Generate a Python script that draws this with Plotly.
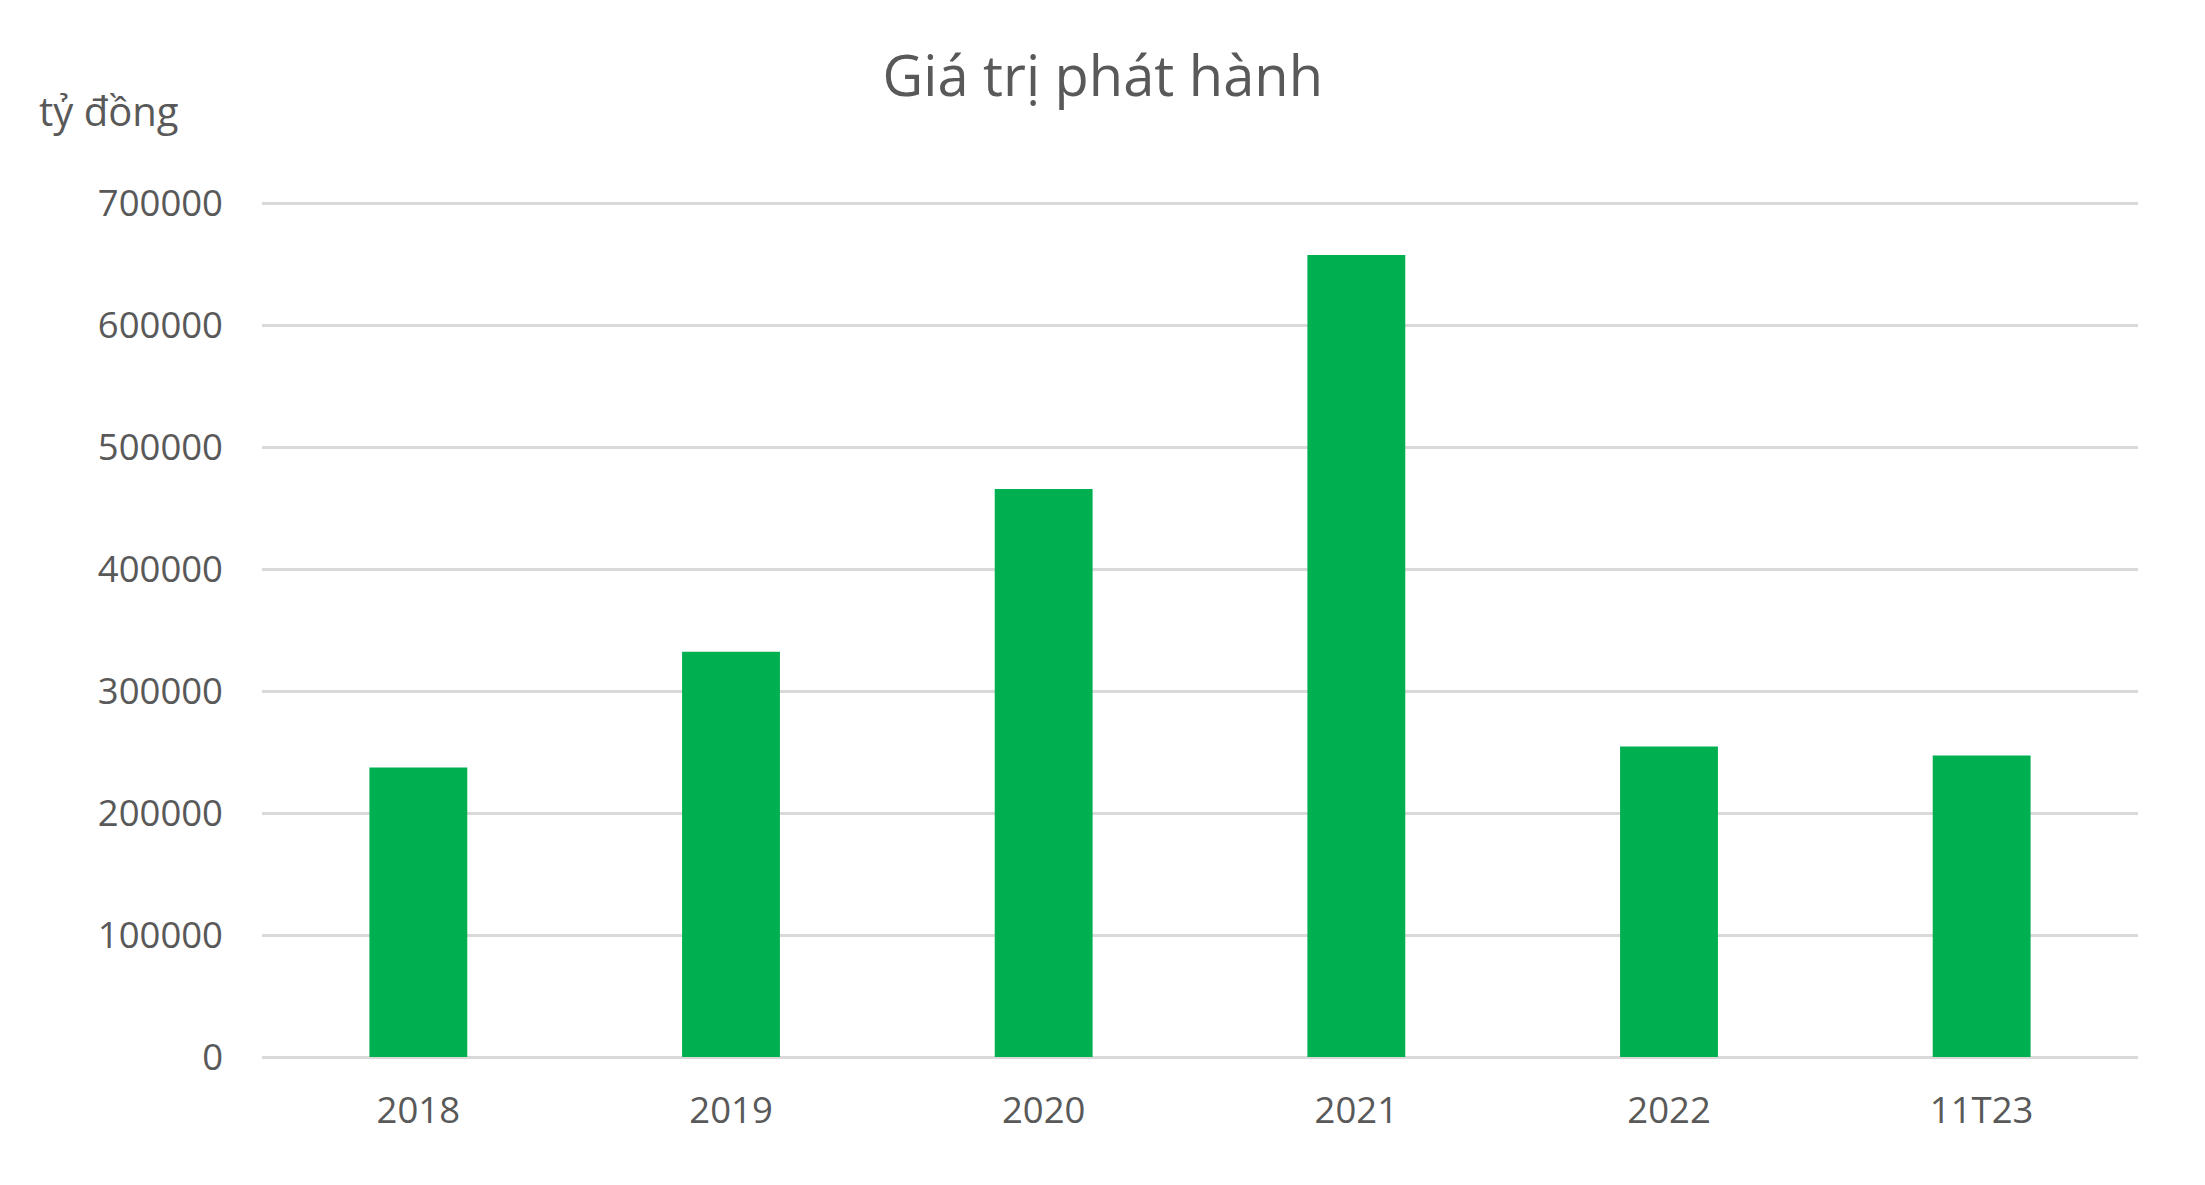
import plotly.graph_objects as go

# values (tỷ đồng)
categories = ["2018", "2019", "2020", "2021", "2022", "11T23"]
issue_values = [237500, 332400, 465900, 657700, 254700, 247300]
y_ticks = [0, 100000, 200000, 300000, 400000, 500000, 600000, 700000]

TEXT = "#595959"
GRID = "#D9D9D9"
GREEN = "#00B050"
FONT = "Open Sans"

fig = go.Figure()
fig.add_trace(
    go.Bar(
        x=categories,
        y=issue_values,
        marker={"color": GREEN, "line": {"width": 0}},
        hoverinfo="x+y",
    )
)

fig.update_layout(
    width=2205,
    height=1185,
    paper_bgcolor="white",
    plot_bgcolor="white",
    margin={"l": 254, "r": 75, "t": 193, "b": 136},
    bargap=0.687,
    showlegend=False,
    font={"family": FONT, "color": TEXT, "size": 36.5},
    title={
        "text": "Giá trị phát hành",
        "x": 0.4965,
        "xref": "container",
        "xanchor": "center",
        "y": 0.942,
        "yref": "container",
        "yanchor": "middle",
        "font": {"family": FONT, "size": 56, "color": TEXT},
    },
    xaxis={
        "showgrid": False,
        "showline": False,
        "ticks": "",
        "ticklabelstandoff": 28,
        "tickfont": {"size": 36.5, "color": TEXT},
    },
    yaxis={
        "range": [0, 702000],
        "tickvals": y_ticks,
        "ticktext": [str(v) for v in y_ticks],
        "showgrid": True,
        "gridcolor": GRID,
        "gridwidth": 3,
        "zeroline": True,
        "zerolinecolor": GRID,
        "zerolinewidth": 3,
        "showline": False,
        "ticks": "",
        "ticklabelstandoff": 38,
        "tickfont": {"size": 36.5, "color": TEXT},
    },
)

fig.add_annotation(
    text="tỷ đồng",
    xref="paper",
    yref="paper",
    x=-0.12,
    y=1.106,
    xanchor="left",
    yanchor="middle",
    showarrow=False,
    font={"family": FONT, "size": 40, "color": TEXT},
)

fig.write_html("out.html")
